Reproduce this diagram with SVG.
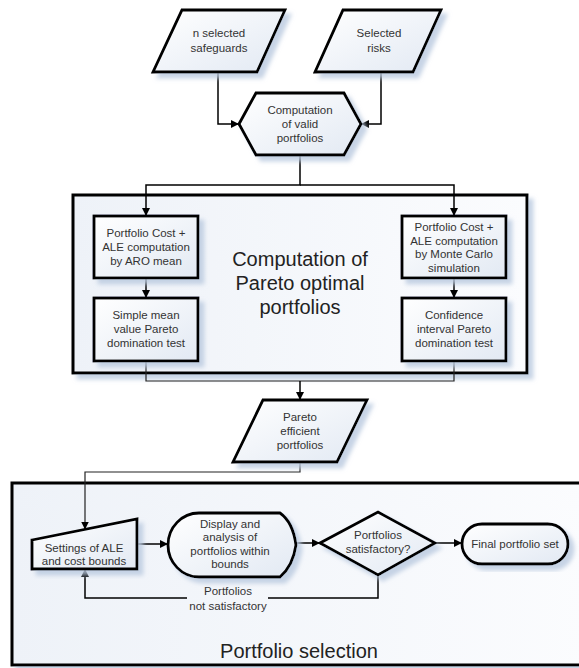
<svg xmlns="http://www.w3.org/2000/svg" width="579" height="668" viewBox="0 0 579 668">
  <defs>
    <linearGradient id="nodeFill" x1="0" y1="0" x2="1" y2="1">
      <stop offset="0" stop-color="#ffffff"/>
      <stop offset="1" stop-color="#e2e9f3"/>
    </linearGradient>
    <linearGradient id="panelFill" x1="0" y1="0" x2="1" y2="0">
      <stop offset="0" stop-color="#eef2f8"/>
      <stop offset="1" stop-color="#fbfcfe"/>
    </linearGradient>
    <filter id="shadow" x="-10%" y="-10%" width="130%" height="130%">
      <feOffset in="SourceAlpha" dx="5" dy="5" result="off"/>
      <feGaussianBlur in="off" stdDeviation="2" result="blur"/>
      <feFlood flood-color="#b9c9df" flood-opacity="0.8"/>
      <feComposite in2="blur" operator="in" result="sh"/>
      <feMerge>
        <feMergeNode in="sh"/>
        <feMergeNode in="SourceGraphic"/>
      </feMerge>
    </filter>
    <marker id="arrow" viewBox="0 0 10 10" refX="10" refY="5" markerWidth="8" markerHeight="8" markerUnits="userSpaceOnUse" orient="auto">
      <path d="M0,0 L10,5 L0,10 z" fill="#000"/>
    </marker>
  </defs>
  <style>
    .panel { fill: url(#panelFill); stroke: #000; stroke-width: 3; filter: url(#shadow); }
    .node { fill: url(#nodeFill); stroke: #000; stroke-width: 2.8; stroke-linejoin: miter; filter: url(#shadow); }
    .t { font-family: "Liberation Sans", Arial, sans-serif; font-size: 11.5px; fill: #333; text-anchor: middle; }
    .big { font-family: "Liberation Sans", Arial, sans-serif; font-size: 20px; fill: #222; text-anchor: middle; }
    .link { fill: none; stroke: #000; stroke-width: 1.5; }
    .thin { fill: none; stroke: #222; stroke-width: 1.2; }
  </style>

  <rect width="579" height="668" fill="#ffffff"/>

  <!-- containers -->
  <g id="pareto-panel">
    <rect class="panel" x="73" y="195" width="454" height="178"/>
    <text class="big" x="300" y="266">Computation of</text>
    <text class="big" x="300" y="290">Pareto optimal</text>
    <text class="big" x="300" y="314">portfolios</text>
  </g>
  <g id="selection-panel">
    <rect class="panel" x="12" y="483" width="575" height="182"/>
    <text class="big" x="299" y="658">Portfolio selection</text>
  </g>

  <!-- connectors -->
  <g id="connectors">
    <path class="link" d="M218,72 V124 H239" marker-end="url(#arrow)"/>
    <path class="link" d="M381,72 V124 H361" marker-end="url(#arrow)"/>
    <path class="link" d="M300,155 V185 H146 V216" marker-end="url(#arrow)"/>
    <path class="link" d="M300,185 H454 V216" marker-end="url(#arrow)"/>
    <path class="link" d="M146,278 V298" marker-end="url(#arrow)"/>
    <path class="link" d="M454,278 V298" marker-end="url(#arrow)"/>
    <path class="thin" d="M146,361 V381 H454 V361"/>
    <path class="link" d="M300,381 V400" marker-end="url(#arrow)"/>
    <path class="thin" d="M300,462 V472 H85 V529.5" marker-end="url(#arrow)"/>
    <path class="link" d="M137,544 H168" marker-end="url(#arrow)"/>
    <path class="link" d="M295,543 H320" marker-end="url(#arrow)"/>
    <path class="link" d="M435,543 H462" marker-end="url(#arrow)"/>
    <path class="link" d="M378,575 V598 H268"/>
    <path class="link" d="M187,598 H85 V569" marker-end="url(#arrow)"/>
    <text class="t" x="228" y="595">Portfolios</text>
    <text class="t" x="228" y="610">not satisfactory</text>
  </g>

  <!-- nodes -->
  <g id="safeguards">
    <polygon class="node" points="182,10 285,10 257,72 153,72"/>
    <text class="t" x="219" y="37">n selected</text>
    <text class="t" x="219" y="52">safeguards</text>
  </g>
  <g id="risks">
    <polygon class="node" points="343,10 441,10 413,72 315,72"/>
    <text class="t" x="379" y="37">Selected</text>
    <text class="t" x="379" y="52">risks</text>
  </g>
  <g id="valid-portfolios">
    <polygon class="node" points="239,124 256,93 344,93 361,124 344,155 256,155"/>
    <text class="t" x="300" y="114">Computation</text>
    <text class="t" x="300" y="128">of valid</text>
    <text class="t" x="300" y="142">portfolios</text>
  </g>
  <g id="aro-mean">
    <rect class="node" x="94" y="216" width="104" height="62"/>
    <text class="t" x="146" y="237">Portfolio Cost +</text>
    <text class="t" x="146" y="251">ALE computation</text>
    <text class="t" x="146" y="265">by ARO mean</text>
  </g>
  <g id="mean-test">
    <rect class="node" x="94" y="298" width="104" height="63"/>
    <text class="t" x="146" y="319">Simple mean</text>
    <text class="t" x="146" y="333">value Pareto</text>
    <text class="t" x="146" y="347">domination test</text>
  </g>
  <g id="monte-carlo">
    <rect class="node" x="402" y="216" width="104" height="62"/>
    <text class="t" x="454" y="231">Portfolio Cost +</text>
    <text class="t" x="454" y="244.5">ALE computation</text>
    <text class="t" x="454" y="258">by Monte Carlo</text>
    <text class="t" x="454" y="271.5">simulation</text>
  </g>
  <g id="confidence-test">
    <rect class="node" x="402" y="298" width="104" height="63"/>
    <text class="t" x="454" y="319">Confidence</text>
    <text class="t" x="454" y="333">interval Pareto</text>
    <text class="t" x="454" y="347">domination test</text>
  </g>
  <g id="pareto-efficient">
    <polygon class="node" points="263,400 367,400 337,462 233,462"/>
    <text class="t" x="300" y="421">Pareto</text>
    <text class="t" x="300" y="435">efficient</text>
    <text class="t" x="300" y="449">portfolios</text>
  </g>
  <g id="bounds">
    <polygon class="node" points="32,540 137,519 137,569 32,569"/>
    <text class="t" x="84" y="552">Settings of ALE</text>
    <text class="t" x="84" y="565">and cost bounds</text>
  </g>
  <g id="display">
    <path class="node" d="M199,513 H280 Q293,522 296,545 Q293,566 280,577 H199 A31,32 0 0 1 199,513 Z"/>
    <text class="t" x="230" y="527.5">Display and</text>
    <text class="t" x="230" y="541">analysis of</text>
    <text class="t" x="230" y="554.5">portfolios within</text>
    <text class="t" x="230" y="568">bounds</text>
  </g>
  <g id="decision">
    <polygon class="node" points="320,543 378,512 435,543 378,575"/>
    <text class="t" x="378" y="539">Portfolios</text>
    <text class="t" x="378" y="553">satisfactory?</text>
  </g>
  <g id="final-set">
    <rect class="node" x="462" y="524" width="106" height="40" rx="20" ry="20"/>
    <text class="t" x="515" y="548">Final portfolio set</text>
  </g>
</svg>
